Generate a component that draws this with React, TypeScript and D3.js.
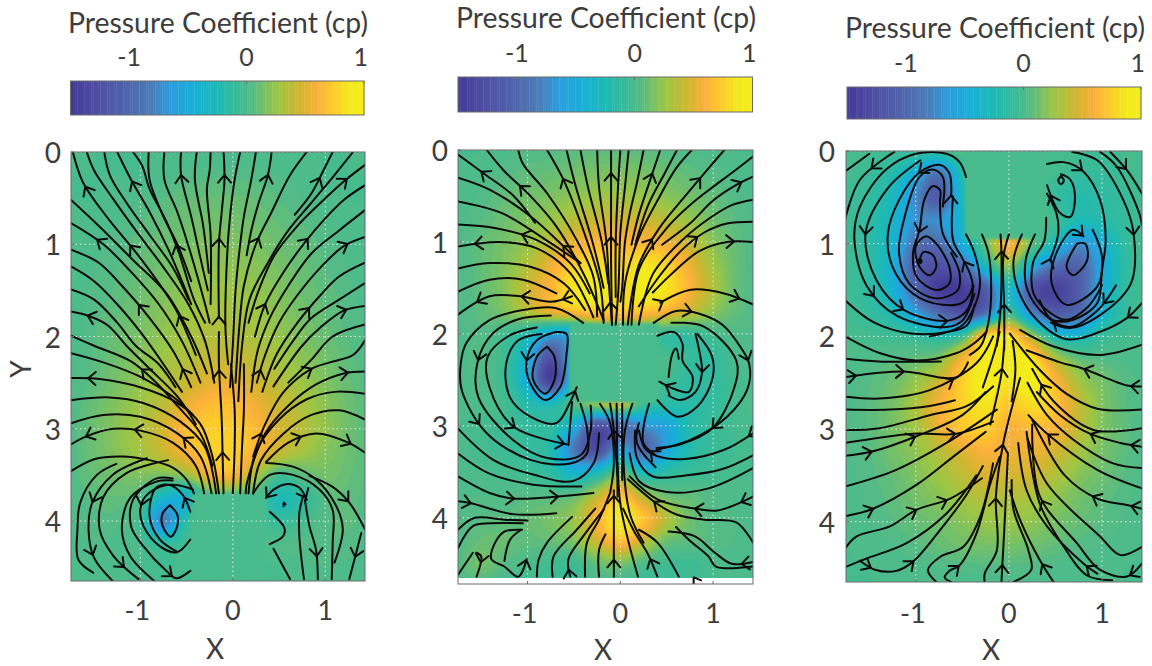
import React, { useMemo } from 'react';
import * as d3 from 'd3';

const width = 1152;
const height = 666;

const gridX = [-1.75, -1.5, -1.25, -1, -0.75, -0.5, -0.25, 0, 0.25, 0.5, 0.75, 1, 1.25, 1.5];
const gridY = [0, 0.25, 0.5, 0.75, 1, 1.25, 1.5, 1.75, 2, 2.25, 2.5, 2.75, 3, 3.25, 3.5, 3.75, 4, 4.25, 4.5, 4.75];

const cpA = [
  [0, 0, 0, 0, 0, 0, 0, 0, 0, 0, 0, 0, 0, 0],
  [0, 0, 0, 0, .02, .04, .05, .05, .05, .03, .02, 0, 0, 0],
  [0, 0, .01, .03, .06, .09, .1, .1, .09, .06, .03, .02, 0, 0],
  [0, .01, .03, .06, .09, .12, .14, .14, .12, .09, .06, .03, .01, 0],
  [0, .02, .05, .08, .12, .15, .18, .18, .16, .12, .09, .05, .02, 0],
  [0, .03, .06, .1, .14, .19, .22, .22, .2, .15, .11, .06, .03, 0],
  [.01, .04, .07, .12, .17, .22, .26, .26, .23, .18, .12, .08, .04, .01],
  [.01, .05, .09, .14, .2, .26, .3, .3, .27, .2, .14, .09, .05, .02],
  [.01, .06, .11, .17, .23, .3, .34, .35, .31, .24, .17, .11, .06, .02],
  [.02, .07, .13, .2, .27, .34, .41, .42, .37, .29, .21, .14, .08, .03],
  [.03, .08, .16, .23, .32, .42, .52, .54, .46, .36, .26, .18, .1, .04],
  [.04, .11, .19, .28, .38, .54, .66, .66, .56, .43, .32, .21, .12, .05],
  [.05, .12, .21, .31, .46, .66, .74, .73, .64, .47, .35, .23, .13, .05],
  [.05, .12, .2, .29, .42, .6, .74, .74, .6, .42, .29, .19, .12, .05],
  [.05, .1, .14, .18, .16, .26, .58, .62, .32, 0, .07, .14, .1, .05],
  [.04, .07, .09, .03, -.35, -.4, 0, 0, 0, -.25, -.15, .06, .08, .04],
  [.03, .05, .04, -.05, -.8, -.15, 0, 0, 0, -.1, -.03, .05, .07, .03],
  [.02, .03, .02, 0, -.12, -.02, 0, 0, 0, .03, .04, .06, .05, .02],
  [.01, .02, .01, 0, -.03, -.02, 0, 0, 0, 0, .02, .03, .02, .01],
  [0, 0, 0, 0, 0, 0, 0, 0, 0, 0, 0, 0, 0, 0],
];

const cpB = [
  [0, 0, .02, .04, .05, .07, .08, .08, .07, .05, .03, .02, 0, 0],
  [0, .02, .05, .08, .1, .14, .16, .17, .16, .12, .08, .05, .02, 0],
  [.01, .04, .09, .13, .17, .22, .26, .28, .25, .2, .14, .09, .04, .01],
  [.02, .06, .12, .18, .25, .35, .42, .45, .42, .35, .24, .13, .06, .02],
  [.03, .09, .15, .24, .38, .54, .62, .62, .62, .55, .4, .2, .09, .03],
  [.03, .09, .18, .33, .55, .74, .82, .75, .85, .76, .55, .28, .1, .03],
  [.03, .09, .2, .42, .62, .85, .95, .75, .95, .85, .6, .33, .1, .03],
  [.03, .08, .17, .35, .55, .68, .74, .72, .7, .6, .42, .22, .09, .03],
  [.02, .05, -.02, -.2, -.55, -.5, 0, 0, 0, -.1, -.1, -.02, .03, .02],
  [.02, .04, -.06, -.45, -1.2, -.4, 0, 0, 0, 0, -.1, -.12, .02, .02],
  [.02, .03, -.07, -.5, -1.4, -.35, 0, 0, 0, -.03, -.13, -.12, -.02, .02],
  [.02, .02, -.02, -.2, -.3, .05, .3, .45, -.05, -.15, -.18, -.12, -.02, .02],
  [0, -.02, -.05, -.1, -.15, -.45, -1.2, -1, -.7, -.55, -.2, -.08, -.02, 0],
  [.02, -.02, -.05, -.1, -.2, -.85, -1.3, -.6, -1, -.55, -.2, -.08, -.03, 0],
  [.02, .01, -.02, -.05, -.15, -.4, -.3, .1, -.3, -.15, -.08, -.04, -.01, 0],
  [.03, .03, .03, .05, .05, .08, .35, .7, .3, .1, .08, .03, .02, .01],
  [.03, .06, .07, .1, .15, .25, .6, .9, .7, .35, .12, .05, .03, .02],
  [.04, .1, .1, .08, .1, .18, .45, .7, .4, .12, .08, .05, .03, .02],
  [.05, .14, .06, .02, -.03, -.05, .1, .15, .02, -.03, -.05, 0, .02, .02],
  [.02, .02, -.02, -.05, -.05, -.05, .02, .02, -.05, -.05, -.02, 0, 0, 0],
];

const cpC = [
  [0, -.02, -.05, -.1, -.1, .05, 0, 0, 0, 0, -.02, -.05, -.02, 0],
  [-.02, -.08, -.2, -.5, -.9, -.2, 0, 0, 0, -.03, -.1, -.1, -.05, 0],
  [-.05, -.12, -.3, -.75, -1.1, -.3, 0, 0, 0, -.1, -.2, -.15, -.08, -.02],
  [-.05, -.15, -.35, -.7, -.7, -.35, 0, 0, 0, -.05, -.25, -.2, -.1, -.03],
  [-.05, -.15, -.4, -.9, -.95, -.45, .1, .6, .1, -.3, -.7, -.45, -.12, -.03],
  [-.05, -.15, -.45, -1.1, -1.25, -1, -.3, .2, -.5, -.95, -1.05, -.55, -.15, -.03],
  [-.05, -.15, -.4, -1, -1.45, -1.45, -1.1, -.3, -1.2, -1.4, -1.1, -.5, -.12, -.03],
  [-.03, -.1, -.25, -.6, -.95, -1.2, -.9, -.05, -.75, -1.1, -.95, -.4, -.1, -.02],
  [0, -.02, -.05, -.1, -.2, -.05, .8, .85, .3, -.25, -.3, -.1, -.03, 0],
  [.01, .03, .06, .1, .2, .6, .9, .9, .85, .35, .1, .05, .02, .01],
  [.02, .06, .12, .25, .45, .75, .95, .85, .95, .65, .3, .15, .06, .02],
  [.02, .07, .15, .32, .6, .75, .85, .7, .8, .7, .4, .18, .07, .02],
  [.03, .07, .15, .28, .52, .7, .75, .6, .65, .6, .38, .18, .08, .02],
  [.03, .06, .14, .22, .35, .5, .6, .55, .55, .45, .3, .15, .07, .02],
  [.02, .05, .1, .18, .27, .38, .48, .45, .45, .33, .2, .12, .06, .02],
  [.01, .04, .08, .14, .2, .28, .35, .33, .3, .22, .14, .08, .04, .01],
  [.01, .03, .06, .1, .14, .2, .25, .26, .22, .15, .1, .06, .03, .01],
  [0, .01, .03, .06, .1, .13, .15, .15, .13, .09, .05, .03, .01, 0],
  [0, 0, .01, .02, .03, .04, .05, .05, .04, .02, .01, .01, 0, 0],
  [0, 0, 0, 0, 0, 0, 0, 0, 0, 0, 0, 0, 0, 0],
];

// solid body outlines, cp = 0 inside
const bodyA = [[-.45, 3.7], [.36, 3.7], [.36, 4.7], [-.45, 4.7]];
const bodyB = [[-.55, 1.88], [.42, 1.88], [.42, 2.75], [-.55, 2.75]];
const bodyC = [[-.47, -.05], [.4, -.05], [.4, .95], [-.47, .95]];

// streamlines as x,y,x,y...
const linesA = [
  [-1.73, 0, -1.62, .33, -1.35, .72, -1, 1.15, -.62, 1.7, -.4, 2.2],
  [-1.58, 0, -1.5, .2, -1.3, .5, -1.05, .85, -.75, 1.25, -.48, 1.65, -.3, 2.05, -.2, 2.5],
  [-1.39, 0, -1.33, .25, -1.15, .55, -.9, .9, -.65, 1.25, -.48, 1.6],
  [-1.25, 0, -1.1, .3, -.9, .65, -.7, 1.05, -.55, 1.4, -.45, 1.65],
  [-1.08, 0, -.98, .15, -.9, .4, -.72, .75, -.58, 1.1, -.42, 1.6, -.3, 1.85],
  [-.91, 0, -.9, .3, -.75, .7, -.6, 1, -.45, 1.4],
  [-.74, 0, -.74, .3, -.6, .65, -.47, 1.05, -.3, 1.65, -.25, 1.85],
  [-.56, 0, -.56, .25, -.45, .7, -.35, 1.15, -.27, 1.5],
  [-.39, 0, -.41, .3, -.32, .8, -.26, 1.31],
  [-.24, 0, -.25, .2, -.28, .4, -.24, .9, -.24, 1.65],
  [-.1, 0, -.09, .3, -.12, .65, -.15, 1, -.15, 1.8],
  [.08, 0, .02, .3, -.03, .7, -.06, 1.1, -.08, 1.9, -.05, 2.3],
  [.25, 0, .2, .3, .12, .7, .08, 1, .03, 1.5, 0, 2.1, -.03, 2.55],
  [.42, 0, .38, .25, .28, .55, .2, .85, .15, 1.12],
  [.8, 0, .62, .25, .42, .65, .25, 1, .12, 1.45, .07, 1.9, .03, 2.5],
  [1.08, 0, .98, .2, .85, .45, .67, .68],
  [1.3, 0, 1.1, .25, .85, .55, .6, .85, .38, 1.2, .18, 1.6, .1, 2.1, .06, 2.7],
  [-1.75, .52, -1.44, .81, -1.08, 1.17, -.72, 1.53, -.45, 2, -.28, 2.4],
  [-1.75, .77, -1.4, 1, -1.1, 1.3, -.8, 1.65, -.55, 2.05, -.35, 2.5],
  [-1.75, 1.06, -1.45, 1.2, -1.2, 1.45, -.9, 1.8, -.65, 2.15, -.45, 2.55],
  [-1.75, 1.24, -1.5, 1.4, -1.25, 1.65, -1, 1.95, -.75, 2.3, -.55, 2.6],
  [-1.75, 1.49, -1.5, 1.6, -1.25, 1.85, -1.05, 2.1, -.8, 2.3, -.62, 2.55],
  [-1.75, 1.73, -1.55, 1.78, -1.35, 1.88, -1.15, 2.1, -.9, 2.35, -.6, 2.65, -.4, 2.95],
  [-1.75, 1.99, -1.5, 2.1, -1.1, 2.27, -.85, 2.48, -.6, 2.75, -.35, 3.05, -.22, 3.4],
  [-1.75, 2.18, -1.4, 2.28, -.97, 2.45, -.65, 2.65, -.43, 2.85],
  [-1.75, 2.45, -1.44, 2.46, -1, 2.55, -.6, 2.72, -.35, 2.95, -.22, 3.3, -.15, 3.7],
  [-1.75, 2.69, -1.33, 2.66, -.97, 2.72, -.57, 2.92, -.3, 3.2, -.18, 3.7],
  [-1.75, 2.94, -1.4, 2.85, -1, 2.87, -.6, 3.05, -.35, 3.3, -.23, 3.7],
  [-1.75, 3.17, -1.58, 3.08, -1.29, 3, -1, 3.02, -.65, 3.15, -.4, 3.4, -.31, 3.7],
  [-.42, 3.7, -.5, 3.55, -.65, 3.42, -.9, 3.34, -1.2, 3.3, -1.5, 3.33, -1.75, 3.46],
  [-.1, 3.7, -.11, 3.3, -.12, 2.9, -.15, 2.3, -.15, 1.95],
  [0, 3.7, .02, 3.2, .02, 2.8, -.02, 2.3],
  [.08, 3.7, .1, 3.2, .12, 2.8, .12, 2.3],
  [1.43, .14, 1.2, .32, .95, .55, .7, .8, .45, 1.12, .28, 1.5, .17, 1.85],
  [1.43, .36, 1.2, .52, 1, .72, .78, .98, .55, 1.3, .35, 1.65, .24, 2],
  [1.43, .63, 1.15, .85, .85, 1.1, .6, 1.45, .4, 1.8, .27, 2.15, .2, 2.6],
  [1.43, .92, 1.2, 1.02, .95, 1.25, .7, 1.55, .5, 1.85, .35, 2.2, .26, 2.5],
  [1.43, 1.2, 1.15, 1.35, .95, 1.55, .7, 1.85, .47, 2.2, .32, 2.6],
  [1.43, 1.42, 1.15, 1.6, .85, 1.8, .65, 2.05, .45, 2.35],
  [1.43, 1.67, 1.2, 1.72, .95, 1.9, .75, 2.1, .44, 2.54],
  [1.43, 1.87, 1.08, 2, .85, 2.25, .6, 2.5],
  [1.43, 2.04, 1.3, 2.2, 1.05, 2.28, .85, 2.35, .55, 2.6, .35, 2.95, .22, 3.3],
  [1.43, 2.38, 1.2, 2.4, .9, 2.52, .6, 2.75, .35, 3.05, .15, 3.6, .14, 3.7],
  [1.43, 2.62, 1.1, 2.6, .8, 2.68, .5, 2.9, .25, 3.25, .17, 3.7],
  [1.43, 2.9, 1.15, 2.8, .85, 2.85, .55, 3.05, .3, 3.35, .22, 3.7],
  [1.43, 3.26, 1.25, 3.15, .9, 3.05, .6, 3.15, .36, 3.36],
  [.83, 3.51, 1.08, 3.63, 1.26, 3.8, 1.43, 4.09],
  [-1.51, 4.56, -1.67, 4.42, -1.68, 4.09, -1.65, 3.8, -1.47, 3.5, -1.26, 3.38],
  [-1.3, 4.65, -1.5, 4.4, -1.56, 4.1, -1.52, 3.8, -1.3, 3.5, -.93, 3.32],
  [-1.02, 4.63, -1.29, 4.38, -1.44, 4.09, -1.4, 3.74, -1.15, 3.48, -.7, 3.34],
  [-.85, 4.65, -1.11, 4.38, -1.2, 4.09, -1.11, 3.75, -.82, 3.57, -.65, 3.56],
  [-.46, 4.2, -.61, 4.34, -.83, 4.24, -.99, 3.99, -.97, 3.77, -.79, 3.63, -.61, 3.61, -.43, 3.66],
  [-.46, 4.54, -.61, 4.62, -.72, 4.54, -.97, 4.27, -1.1, 4.06, -1.08, 3.77, -.83, 3.54, -.65, 3.54],
  [-.46, 3.9, -.54, 3.72, -.68, 3.61, -.83, 3.64, -.9, 3.95, -.79, 4.2, -.61, 4.33],
  [-.68, 3.83, -.6, 3.93, -.6, 4.05, -.67, 4.17, -.76, 4.05, -.76, 3.92, -.68, 3.83],
  [.36, 3.75, .44, 3.66, .58, 3.6, .72, 3.64, .8, 3.77],
  [.4, 3.9, .56, 4.08, .54, 4.17, .4, 4.25],
  [.57, 3.82, .55, 3.8, .55, 3.84],
  [.44, 4.3, .62, 4.63],
  [.77, 4.63, .72, 4.17, .72, 3.91, .76, 3.73],
  [.92, 4.63, .9, 4.31, .83, 4.06, .78, 3.77],
  [1.07, 4.63, 1.08, 4.24, 1.08, 3.88, .94, 3.66, .65, 3.5, .4, 3.5, .22, 3.7],
  [1.1, 4.45, 1.19, 4.09, 1.12, 3.84, .9, 3.55, .65, 3.41, .36, 3.37],
  [1.26, 4.63, 1.39, 4.13],
];

const linesB = [
  [-1.75, .05, -1.48, .25, -1.15, .5, -.92, .79],
  [-1.75, .3, -1.41, .43, -.97, .72, -.61, 1.05, -.43, 1.23],
  [-1.44, 0, -1.26, .22, -.97, .5, -.69, .83, -.4, 1.34, -.18, 1.85],
  [-1.1, 0, -1.05, .15, -.79, .47, -.47, .98, -.29, 1.38, -.25, 1.81],
  [-.79, 0, -.61, .33, -.4, .87, -.22, 1.45, -.18, 1.88],
  [-.58, 0, -.48, .4, -.3, 1, -.18, 1.5],
  [-.43, 0, -.35, .4, -.2, 1, -.13, 1.45],
  [-.25, 0, -.23, .4, -.15, 1, -.12, 1.5, -.09, 1.9],
  [-.1, 0, -.1, .5, -.1, 1.2, -.09, 1.9],
  [0, 0, -.03, .5, -.05, 1, -.05, 1.6],
  [.09, 0, .05, .4, 0, .9, -.02, 1.5, -.05, 1.9],
  [.25, 0, .18, .35, .1, .7, .05, 1, .02, 1.5, 0, 1.65],
  [.43, 0, .33, .3, .2, .7, .12, 1.03],
  [.61, 0, .48, .25, .3, .6, .16, 1.03],
  [.77, 0, .6, .2, .4, .55, .2, .95, .05, 1.45, .03, 1.9],
  [1.12, 0, .95, .2, .7, .5, .42, .85, .2, 1.25, .08, 1.9],
  [1.43, .07, 1.2, .25, 1, .4, .75, .6, .5, .85, .2, 1.3, .12, 1.9],
  [1.43, .29, 1.25, .38, 1, .55, .75, .8, .45, 1.03],
  [1.43, .54, 1.2, .6, .95, .75, .7, .95, .35, 1.35, .2, 1.9],
  [1.43, .78, 1.15, .8, .9, .9, .65, 1.1, .4, 1.4, .2, 1.7],
  [1.43, 1, 1.15, 1, .85, 1.1, .55, 1.35, .35, 1.55],
  [1.43, 1.68, 1.12, 1.56, .76, 1.52, .43, 1.66],
  [-1.75, .56, -1.27, .69, -.8, .98, -.43, 1.23],
  [-1.75, .81, -1.34, .85, -.9, .98, -.54, 1.23, -.33, 1.56],
  [-1.75, 1.05, -1.3, 1, -.9, 1.07, -.54, 1.34, -.29, 1.82],
  [-1.75, 1.29, -1.41, 1.23, -.97, 1.27, -.61, 1.45, -.38, 1.74],
  [-1.75, 1.54, -1.41, 1.41, -1.05, 1.41, -.69, 1.56],
  [-1.75, 1.79, -1.41, 1.59, -1.08, 1.59, -.75, 1.65, -.52, 1.59],
  [.36, 1.88, .6, 1.75, .85, 1.78, 1.1, 1.9, 1.3, 2.15, 1.39, 2.33, 1.37, 2.6, 1.15, 2.9, .76, 3.15, .39, 3.26],
  [.83, 2, .99, 2.25, .99, 2.5, .83, 2.79, .61, 2.9, .4, 2.72],
  [.55, 1.88, .9, 1.92, 1.25, 2.29, 1.23, 2.58, .99, 3.03, .65, 3.2, .39, 3.24],
  [-.4, 1.88, -.69, 1.72, -1.05, 1.74, -1.41, 1.85, -1.66, 2.1, -1.72, 2.32, -1.71, 2.61, -1.44, 3.08, -.97, 3.37, -.54, 3.41, -.36, 3.3, -.36, 3.03, -.43, 2.76],
  [-.75, 1.8, -1.1, 1.84, -1.38, 2, -1.54, 2.31, -1.53, 2.69, -1.15, 3.16, -.79, 3.35, -.43, 3.32, -.32, 3.05, -.32, 2.78],
  [-.9, 1.93, -1.2, 2.02, -1.43, 2.25, -1.41, 2.58, -1.15, 3.01, -.58, 3.2],
  [-.85, 2, -1.1, 2.07, -1.23, 2.32, -1.19, 2.69, -.97, 2.9, -.69, 2.97, -.54, 2.74, -.47, 2.58],
  [-.7, 1.98, -.58, 2, -.58, 2.22, -.65, 2.58, -.81, 2.72, -.97, 2.54, -1.01, 2.29, -.9, 2.07, -.7, 1.98],
  [-.79, 2.14, -.71, 2.25, -.71, 2.5, -.81, 2.65, -.94, 2.5, -.9, 2.25, -.79, 2.14],
  [-.52, 2.74, -.56, 3.21],
  [.4, 2.02, .58, 1.98, .67, 2.11, .67, 2.29, .78, 2.47, .74, 2.63, .58, 2.6, .42, 2.52],
  [.52, 2.47, .56, 2.22, .6, 2.16, .63, 2.27],
  [.81, 2, .85, 2.18, .88, 2.42, .81, 2.63, .65, 2.72, .52, 2.67],
  [-.22, 2.76, -.11, 2.97, -.07, 3.41, -.11, 3.73],
  [-.11, 2.76, -.07, 3.05, -.03, 3.55],
  [-.04, 2.76, -.03, 3.77],
  [.02, 2.76, .02, 3.59],
  [.13, 2.76, .05, 3.05, .04, 3.5, .11, 3.98, .25, 4.27],
  [.31, 2.76, .25, 3.01, .25, 3.19, .38, 3.32],
  [.2, 2.97, .18, 3.19, .38, 3.45],
  [1.43, 3.08, 1.12, 3.26, .7, 3.36, .4, 3.33, .27, 3.25, .2, 3.05],
  [1.43, 3.32, 1.1, 3.47, .7, 3.54, .35, 3.55, .18, 3.35, .16, 3.05],
  [1.43, 3.46, .95, 3.68, .5, 3.72, .2, 3.6, .1, 3.3],
  [1.43, 3.77, 1.05, 3.92, .8, 3.9, .4, 3.8, .1, 3.55],
  [1.43, 4.27, 1.25, 4.05, .9, 4.02, .62, 3.97, .4, 3.85, .08, 3.58],
  [.52, 4.15, .8, 4.2, 1.02, 4.38, 1.2, 4.5, 1.43, 4.48],
  [1.43, 4.53, 1.03, 4.53, .95, 4.42, .75, 4.25, .6, 4.1],
  [-.07, 4.64, -.07, 4.2, -.07, 3.7],
  [.19, 4.64, .09, 4.27, 0, 3.85, -.03, 3.4],
  [.4, 4.64, .29, 4.38, .15, 4.15, .03, 3.9],
  [.63, 4.64, .4, 4.27, .2, 4.13],
  [.79, 4.65, .79, 4.72],
  [.8, 4.65, .87, 4.68],
  [-.23, 4.64, -.23, 4.35, -.16, 4.18],
  [-.38, 4.64, -.36, 4.27, -.23, 4.02, -.11, 3.73],
  [-.54, 4.64, -.56, 4.45, -.4, 4.2, -.18, 3.91],
  [-.73, 4.64, -.72, 4.42, -.47, 4.13, -.27, 3.9],
  [-.9, 4.64, -.88, 4.45, -.79, 4.27, -.52, 3.99],
  [-1.25, 4.47, -1.19, 4.24, -1.07, 4.13],
  [-1.01, 4.45, -1.1, 4.64, -1.25, 4.53, -1.39, 4.45, -1.35, 4.27, -1.25, 4.15, -1.06, 4.13],
  [-1.75, 4.62, -1.59, 4.38],
  [-1.55, 4.64, -1.5, 4.42, -1.55, 4.38],
  [-1.75, 4.33, -1.59, 4.09, -1.4, 4.06, -1.05, 4.06],
  [-1.75, 4.13, -1.57, 4, -1.25, 4.02, -1, 4.03],
  [-1.75, 3.82, -1.62, 3.84, -1.16, 3.96, -.69, 3.95],
  [-1.75, 3.55, -1.41, 3.73, -1.16, 3.79, -.69, 3.77, -.29, 3.73],
  [-1.75, 3.3, -1.41, 3.52, -.94, 3.64, -.42, 3.66],
  [-1.75, 3.03, -1.37, 3.37, -.94, 3.53, -.51, 3.6, -.29, 3.41, -.23, 3.08],
];

const linesC = [
  [-1.76, .22, -1.5, .03],
  [-1.76, .74, -1.6, .31, -1.23, .01],
  [-.46, .28, -.53, .12, -.67, .03, -1, .03, -1.32, .2, -1.6, .6, -1.66, .95, -1.53, 1.45, -1.2, 1.78, -.67, 1.9, -.5, 1.83, -.37, 1.54],
  [-.95, .1, -1.3, .4, -1.54, .89, -1.42, 1.4, -1.12, 1.72, -.65, 1.83, -.45, 1.72, -.38, 1.45],
  [-1.76, 1.61, -1.45, 1.85, -1.05, 1.97, -.65, 1.95, -.45, 1.88, -.37, 1.66],
  [-.62, .49, -.64, .24, -.74, .15, -.96, .23, -1.18, .53, -1.3, .89, -1.25, 1.25, -1.03, 1.54, -.71, 1.66, -.49, 1.63, -.39, 1.46, -.42, 1.32, -.51, 1.14, -.6, .96, -.6, .49],
  [-.71, .6, -.71, .28, -.82, .2, -.96, .28, -1.12, .71, -1.18, 1.1, -1.07, 1.43, -.78, 1.59, -.55, 1.5, -.53, 1.32, -.62, 1.1],
  [-.56, 1.14, -.71, .89, -.74, .56, -.74, .42, -.82, .38, -.91, .53, -.96, .85, -1.03, 1.1, -.99, 1.36, -.78, 1.5, -.64, 1.43, -.64, 1.25, -.78, 1, -.89, .92, -1, 1.03, -.96, 1.25, -.85, 1.34, -.78, 1.25, -.82, 1.12, -.92, 1.09, -.96, 1.19],
  [-.46, .9, -.37, 1.1, -.31, 1.43, -.37, 1.68, -.5, 1.88, -.85, 2],
  [-.29, .9, -.22, 1.1, -.19, 1.5, -.22, 1.85, -.3, 2.1, -.42, 2.2],
  [-.09, .9, -.08, 1.1, -.09, 1.7, -.13, 2.1],
  [0, .9, -.06, 1.15, -.05, 1.7, -.05, 2.15],
  [.14, .9, .05, 1.18, .1, 1.5, .3, 1.82, .62, 2.03, .98, 1.95, 1.27, 1.8, 1.43, 1.64],
  [.28, .9, .18, 1.18, .2, 1.5, .4, 1.78, .65, 1.9, .95, 1.72, 1.15, 1.45],
  [.4, .72, .38, .97, .26, 1.2, .27, 1.55, .45, 1.75, .62, 1.82, .85, 1.68, 1, 1.45],
  [.41, .14, .59, .12, .8, .22, .98, .53, 1.04, .96, 1, 1.28, .95, 1.64, .69, 1.82, .46, 1.82, .33, 1.61],
  [.68, .01, .95, .1, 1.23, .53, 1.34, .89, 1.31, 1.43, .95, 1.79, .66, 1.91, .45, 1.85],
  [.98, .01, 1.16, .17, 1.4, .67, 1.43, .8],
  [1.09, .01, 1.27, .21, 1.43, .46],
  [.41, .37, .55, .67, .66, .71, .71, .49, .66, .31, .56, .25],
  [.56, .27, .53, .32, .56, .36, .59, .32, .56, .27],
  [.41, .46, .51, .67, .53, .89, .44, 1.18],
  [.8, .92, .69, .85, .51, 1.1, .46, 1.43, .62, 1.66, .95, 1.46, 1, 1.14, .9, .85],
  [.73, 1, .62, 1.25, .69, 1.34, .84, 1.18, .82, 1, .73, 1],
  [-1.76, 2, -1.39, 2.18, -.99, 2.26, -.56, 2.18, -.38, 2.08, -.24, 1.95],
  [-1.76, 2.24, -1.4, 2.27, -.73, 2.27],
  [-1.76, 2.44, -1.14, 2.38, -.56, 2.44, -.44, 2.28],
  [-1.76, 2.65, -1.39, 2.67, -.85, 2.58, -.35, 2.29, -.17, 2],
  [-1.76, 2.79, -1.28, 2.79, -.85, 2.75, -.58, 2.69],
  [-1.76, 3.01, -1.39, 2.99, -.85, 2.85, -.45, 2.75, -.17, 2.54],
  [-1.76, 3.15, -1.03, 3.05, -.56, 3.05, -.17, 2.92],
  [-1.76, 3.29, -1.46, 3.24, -1, 3.08, -.5, 2.85, -.25, 2.6],
  [-1.76, 3.62, -1.21, 3.44, -.67, 3.15, -.13, 2.79],
  [-1.76, 3.94, -1.46, 3.86, -.99, 3.6, -.6, 3.3, -.25, 3.03],
  [-1.76, 4.29, -1.64, 4.16, -1.28, 4.05, -.99, 3.87, -.63, 3.75, -.29, 3.53],
  [-1.76, 4.49, -1.54, 4.4, -1.1, 4.23, -.67, 3.91, -.35, 3.5],
  [-1.6, 4.42, -1.43, 4.52, -1.21, 4.53, -1.03, 4.43, -.74, 4.09, -.45, 3.7, -.28, 3.4],
  [-.78, 4.65, -.87, 4.52, -.74, 4.38, -.49, 4.27, -.31, 3.95, -.17, 3.37],
  [-.62, 4.65, -.69, 4.6, -.64, 4.53, -.53, 4.47, -.35, 4.13, -.2, 3.59, -.1, 3.3],
  [-.26, 4.65, -.26, 4.56, -.13, 4.31, -.14, 3.73, -.06, 3.15, .12, 2.45],
  [-.08, 4.65, -.05, 4.09, -.01, 3.26],
  [.05, 4.65, .24, 4.52, .21, 4.31, .05, 3.87, .03, 3.55],
  [.48, 4.65, .33, 4.41, .12, 3.98, .01, 3.66],
  [.95, 4.56, .8, 4.45, .41, 4.05, .19, 3.66, .1, 3.15],
  [1.11, 4.63, .84, 4.58, .59, 4.27, .33, 3.8, .19, 3.03],
  [1.43, 4.45, 1.27, 4.59, .98, 4.52, .73, 4.23, .33, 3.72, .25, 2.95],
  [1.43, 4.27, 1.2, 4.36, .98, 4.16, .41, 3.59, .2, 3.1],
  [1.43, 3.86, 1.27, 3.82, .95, 3.75, .6, 3.5, .25, 2.9],
  [1.43, 3.64, .95, 3.44, .41, 3.05, .21, 2.85],
  [1.43, 3.42, 1.12, 3.37, .7, 3.12, .41, 2.85, .2, 2.5],
  [1.43, 3.19, 1.2, 3.15, .87, 3.05, .55, 2.85, .3, 2.6],
  [1.43, 2.99, .91, 3.01, .48, 2.7, .25, 2.35],
  [1.43, 2.79, .95, 2.78, .62, 2.62, .33, 2.36, .01, 1.97],
  [1.43, 2.54, 1.27, 2.53, .8, 2.35, .55, 2.28, .19, 2.15],
  [1.43, 2.09, .98, 2.2, .48, 2.11, .12, 1.93],
  [-.2, 2.95, -.08, 2.4, -.05, 2.05],
  [-.28, 2.55, -.15, 2.15, -.1, 1.95],
  [.03, 2.7, .07, 2.35, .04, 2.05],
];

// arrowheads as x, y, screen angle in degrees
const arrowsA = [
  [-1.57, .36, -115], [-1.1, .33, -115], [-.55, .25, -90], [-.09, .25, -90], [.36, .25, -80], [.92, .27, -55], [1.23, .3, -40],
  [-1.48, .95, -150], [-1.09, 1, -140], [-.63, 1.02, -110], [-.16, .95, -90], [.33, .95, -70], [.8, .94, -40], [1.25, 1.02, -30],
  [-.98, 1.64, -130], [-.62, 1.8, -120], [-.16, 1.85, -90], [.35, 1.65, -60], [.76, 1.64, -50], [1.23, 1.72, -20], [-1.57, 1.78, -170],
  [-.97, 2.35, -140], [-.54, 2.35, -120], [-.14, 2.36, -90], [.31, 2.36, -60], [.85, 2.35, -35], [1.25, 2.4, 0], [-1.57, 2.45, 180],
  [-1.58, 3.08, 160], [-1.08, 3.12, -175], [-.5, 3.07, -135], [-.16, 3.25, -90], [.31, 3.06, -50], [.76, 3.14, 5], [1.25, 3.21, 20],
  [-1.5, 3.8, 95], [-1.56, 4.38, 90], [-1.15, 4.47, 60], [-.96, 3.83, 100], [-.66, 4.58, 20], [-.51, 3.75, -100], [.78, 3.75, 85],
  [.38, 3.75, -170], [.92, 4.38, 90], [1.25, 3.79, 60], [1.33, 4.38, 100],
];

const arrowsB = [
  [-1.5, .25, -130], [-1.09, .39, -125], [-.62, .32, -110], [-.09, .25, -90], [.34, .25, -70], [.78, .25, -55], [1.32, .36, -35],
  [-1.06, .94, -160], [-.61, 1.05, -120], [-.11, .95, -90], [.33, .97, -60], [.83, .94, -25], [1.23, 1, 0], [-1.56, 1.03, 178],
  [-1.06, 1.61, 180], [-1.55, 1.65, 150], [-.61, 1.66, -170], [-.14, 1.66, -90], [.36, 1.65, -30], [1.3, 1.59, 25], [.76, 1.74, 10],
  [-1.55, 2.29, 90], [-1, 2.29, 90], [-1.52, 2.99, 60], [-1.15, 3.02, 40], [-.55, 2.6, -90], [-.61, 3.16, -10], [-.07, 3.05, -90],
  [.34, 3.26, 180], [.99, 3.03, 145], [1.39, 2.29, 90], [1.39, 3.1, 145], [.88, 2.42, 90], [.49, 2.56, -150], [-1.14, 3.79, 0],
  [-.67, 3.77, 0], [-1.62, 3.84, 10], [-.09, 3.75, -90], [.34, 3.84, -170], [.81, 3.91, 180], [1.3, 3.81, 170], [1.3, 4.47, 180],
  [-1.03, 4.45, -80], [-.55, 4.56, -90], [-.06, 4.45, -90], [.34, 4.45, -110], [-1.52, 4.49, 100],
];

const arrowsC = [
  [-1.46, .2, 135], [-.96, .23, 170], [-1.54, .89, 90], [-1.01, .87, 100], [-.6, .49, -90], [-1.5, 1.61, 40], [-1.16, 1.73, 15],
  [-.65, 1.86, 10], [-.47, 1.19, -120], [-.1, 1.09, -90], [-.05, 1.66, -90], [.78, .22, 30], [1.26, .2, 60], [1.36, .91, 90],
  [.78, .92, 60], [.48, .47, -120], [.41, 1.19, -115], [1, 1.63, 135], [1.31, 1.84, 135], [.48, 1.84, -130],
  [-1.64, 2.45, -5], [-1.14, 2.38, -5], [-.6, 2.47, -15], [-.06, 2.36, -90], [.35, 2.53, -120], [.8, 2.35, -160], [1.31, 2.55, 175],
  [-1.48, 3.24, -10], [-1.01, 3.08, -15], [-.58, 3.05, -25], [-.12, 3.17, -80], [.41, 3.06, -130], [.89, 3.05, -150], [1.31, 3.19, -170],
  [-1.46, 3.86, -20], [-1, 3.87, -25], [-.67, 3.75, -45], [-.12, 3.75, -90], [.35, 3.77, -125], [.84, 3.84, -140], [1.31, 3.83, -165],
  [-1.03, 4.43, -30], [-1.48, 4.49, 30], [-.53, 4.47, -20], [-.04, 4.47, -90], [.37, 4.45, -120], [.84, 4.47, -140], [1.31, 4.58, 150],
];

// spiral end of the big vortex in the right panel
const dotsC = [[-.96, 1.19]];

const cbStops = [-1.5, -1.25, -1, -.8, -.65, -.45, -.25, -.05, .05, .26, .46, .6, .72, .88, 1];
const cbColors = ['#423a98', '#4f50a4', '#4f66ad', '#4a7fbb', '#2c9ddc', '#18afd8', '#1dbab4', '#3ebb93', '#55bb85', '#9cc645', '#d4b52f', '#fbb03b', '#fdc92c', '#f3ea1c', '#f5ec1a'];
const cbTicks = [-1, 0, 1];
const xTicks = [-1, 0, 1];
const yTicks = [0, 1, 2, 3, 4];

const panels = [
  { key: 'a', cp: cpA, body: bodyA, lines: linesA, arrows: arrowsA, dots: [] as number[][], box: [71, 365, 152, 581], yMax: 4.65, heatMax: 4.65, cb: [70.5, 364, 81, 115], titleX: 68, titleY: 33, cbLabelY: 66, xLabelY: 620, xTitle: [215, 659], yTickX: 61 },
  { key: 'b', cp: cpB, body: bodyB, lines: linesB, arrows: arrowsB, dots: [] as number[][], box: [458, 753, 150, 584], yMax: 4.72, heatMax: 4.65, cb: [458, 752.5, 77, 112], titleX: 456, titleY: 28, cbLabelY: 62, xLabelY: 623, xTitle: [603, 660], yTickX: 448 },
  { key: 'c', cp: cpC, body: bodyC, lines: linesC, arrows: arrowsC, dots: dotsC, box: [846, 1142, 151, 582], yMax: 4.65, heatMax: 4.65, cb: [847, 1141, 87, 119], titleX: 845, titleY: 38, cbLabelY: 72, xLabelY: 623, xTitle: [991, 660], yTickX: 835 },
];

const font = "Lato, 'Open Sans', sans-serif";
const textColor = '#3d3d3d';
const frameColor = '#6b6b6b';

const color = d3.scaleLinear<string>().domain(cbStops).range(cbColors).interpolate(d3.interpolateRgb).clamp(true);

const upFactor = 8;
const cr = (a: number, b: number, c: number, d: number, t: number) =>
  0.5 * (2 * b + (c - a) * t + (2 * a - 5 * b + 4 * c - d) * t * t + (3 * b - a - 3 * c + d) * t * t * t);

// resample the coarse cp table so the filled contours come out smooth
function upsample(cp: number[][]) {
  const nx = (gridX.length - 1) * upFactor + 1;
  const ny = (gridY.length - 1) * upFactor + 1;
  const out = new Array(nx * ny);
  const at = (i: number, j: number) =>
    cp[Math.max(0, Math.min(gridY.length - 1, j))][Math.max(0, Math.min(gridX.length - 1, i))];
  for (let y = 0; y < ny; y++) {
    const j = Math.floor(y / upFactor);
    const v = y / upFactor - j;
    for (let x = 0; x < nx; x++) {
      const i = Math.floor(x / upFactor);
      const u = x / upFactor - i;
      const r = [-1, 0, 1, 2].map(dj => cr(at(i - 1, j + dj), at(i, j + dj), at(i + 1, j + dj), at(i + 2, j + dj), u));
      out[y * nx + x] = Math.max(-1.5, Math.min(1, cr(r[0], r[1], r[2], r[3], v)));
    }
  }
  return { nx, ny, values: out };
}

const thresholds = d3.range(0, 80).map(i => -1.5 + (i * 2.5) / 80);

const Panel = ({ p }: { p: (typeof panels)[number] }) => {
  const [x0, x1, y0, y1] = p.box;
  const x = d3.scaleLinear().domain([-1.75, 1.43]).range([x0, x1]);
  const y = d3.scaleLinear().domain([0, p.yMax]).range([y0, y1]);
  const cbX = d3.scaleLinear().domain([-1.5, 1]).range([p.cb[0], p.cb[1]]);

  const fills = useMemo(() => {
    const { nx, ny, values } = upsample(p.cp);
    const project = d3.geoTransform({
      point(px: number, py: number) {
        const dx = gridX[0] + ((px - 0.5) / upFactor) * 0.25;
        const dy = gridY[0] + ((py - 0.5) / upFactor) * 0.25;
        (this as any).stream.point(x(dx), y(dy));
      },
    });
    const path = d3.geoPath(project);
    return d3.contours().size([nx, ny]).thresholds(thresholds)(values).map(c => ({ v: c.value, d: path(c) }));
  }, []);

  const curve = d3.line<number[]>().x(d => x(d[0])).y(d => y(d[1])).curve(d3.curveCatmullRom.alpha(0.5));
  const pairsOf = (l: number[]) => d3.range(0, l.length, 2).map(i => [l[i], l[i + 1]]);
  const linePaths = useMemo(() => p.lines.map(l => curve(pairsOf(l)) as string), []);

  // sit each arrowhead on its nearest streamline and follow the line's direction there
  const heads = useMemo(() => {
    const samples: { x: number; y: number; dx: number; dy: number }[] = [];
    linePaths.forEach(d => {
      const el = document.createElementNS('http://www.w3.org/2000/svg', 'path');
      el.setAttribute('d', d);
      const len = el.getTotalLength();
      for (let s = 1; s < len - 1; s += 2) {
        const a = el.getPointAtLength(s - 1);
        const b = el.getPointAtLength(s + 1);
        samples.push({ x: (a.x + b.x) / 2, y: (a.y + b.y) / 2, dx: b.x - a.x, dy: b.y - a.y });
      }
    });
    return p.arrows.map(a => {
      const ax = x(a[0]);
      const ay = y(a[1]);
      const rad = (a[2] * Math.PI) / 180;
      let best = -1;
      let bestScore = Infinity;
      samples.forEach((s, i) => {
        const dist = Math.hypot(s.x - ax, s.y - ay);
        const cosA = Math.abs(s.dx * Math.cos(rad) + s.dy * Math.sin(rad)) / (Math.hypot(s.dx, s.dy) || 1);
        const score = dist + (1 - cosA) * 8;
        if (score < bestScore) {
          bestScore = score;
          best = i;
        }
      });
      const s = samples[best];
      if (!s || Math.hypot(s.x - ax, s.y - ay) > 14) return [ax, ay, rad];
      let ang = Math.atan2(s.dy, s.dx);
      if (Math.cos(ang - rad) < 0) ang += Math.PI;
      return [s.x, s.y, ang];
    });
  }, []);

  const bodyPath = d3.line<number[]>().x(d => x(d[0])).y(d => y(d[1]))(p.body) + 'Z';
  const clipId = 'clip-' + p.key;
  const frameClip = 'frame-' + p.key;
  const cbSteps = d3.range(0, 128);
  const cbW = (p.cb[1] - p.cb[0]) / 128;

  return (
    <g>
      <text x={p.titleX} y={p.titleY} fontSize={29} fontFamily={font} fill={textColor} textLength={300} lengthAdjust="spacingAndGlyphs">
        Pressure Coefficient (cp)
      </text>
      {cbSteps.map(i => (
        <rect key={i} x={p.cb[0] + i * cbW} y={p.cb[2]} width={cbW + 0.4} height={p.cb[3] - p.cb[2]} fill={color(-1.5 + ((i + 0.5) * 2.5) / 128)} />
      ))}
      <rect x={p.cb[0]} y={p.cb[2]} width={p.cb[1] - p.cb[0]} height={p.cb[3] - p.cb[2]} fill="none" stroke={frameColor} strokeWidth={1} />
      {cbTicks.map(t => (
        <g key={t}>
          <line x1={cbX(t)} x2={cbX(t)} y1={p.cb[2]} y2={p.cb[2] + 3} stroke={frameColor} />
          <text x={t === 1 ? cbX(t) + 4 : cbX(t)} y={p.cbLabelY} textAnchor={t === 1 ? 'end' : 'middle'} fontSize={25} fontFamily={font} fill={textColor}>
            {t}
          </text>
        </g>
      ))}

      <clipPath id={clipId}>
        <rect x={x0} y={y0} width={x1 - x0} height={y(p.heatMax) - y0} />
      </clipPath>
      <clipPath id={frameClip}>
        <rect x={x0} y={y0} width={x1 - x0} height={y1 - y0} />
      </clipPath>
      <filter id={'soft-' + p.key} x="-10%" y="-10%" width="120%" height="120%">
        <feGaussianBlur stdDeviation={1.6} />
      </filter>
      <g clipPath={`url(#${clipId})`}>
        <rect x={x0} y={y0} width={x1 - x0} height={y1 - y0} fill={color(0)} />
        {fills.map(f => (
          <path key={f.v} d={f.d as string} fill={color(f.v + 0.015)} />
        ))}
        <path d={bodyPath} fill={color(0)} filter={`url(#soft-${p.key})`} />
      </g>

      {xTicks.map(t => (
        <line key={t} x1={x(t)} x2={x(t)} y1={y0} y2={y1} stroke="#e8e8e8" strokeWidth={1} strokeDasharray="1.5 3" />
      ))}
      {yTicks.map(t => (
        <line key={t} x1={x0} x2={x1} y1={y(t)} y2={y(t)} stroke="#e8e8e8" strokeWidth={1} strokeDasharray="1.5 3" />
      ))}

      <g clipPath={`url(#${frameClip})`} fill="none" stroke="#0b0b0b" strokeWidth={2} strokeLinecap="round" strokeLinejoin="round">
        {linePaths.map((d, i) => (
          <path key={i} d={d} />
        ))}
        {heads.map((a, i) => {
          const barb = (s: number) => `${a[0] - 10 * Math.cos(a[2] + s)},${a[1] - 10 * Math.sin(a[2] + s)}`;
          return <path key={'a' + i} d={`M${barb(0.7)}L${a[0]},${a[1]}L${barb(-0.7)}`} />;
        })}
        {p.dots.map((d, i) => (
          <circle key={'d' + i} cx={x(d[0])} cy={y(d[1])} r={2} fill="#0b0b0b" />
        ))}
      </g>

      <rect x={x0} y={y0} width={x1 - x0} height={y1 - y0} fill="none" stroke={frameColor} strokeWidth={1} />
      {xTicks.map(t => (
        <g key={t}>
          <line x1={x(t)} x2={x(t)} y1={y1} y2={y1 - 3} stroke={frameColor} />
          <text x={x(t) - (t < 0 ? 3 : 0)} y={p.xLabelY} textAnchor="middle" fontSize={27} fontFamily={font} fill={textColor}>
            {t}
          </text>
        </g>
      ))}
      {yTicks.map(t => (
        <g key={t}>
          <line x1={x0} x2={x0 + 3} y1={y(t)} y2={y(t)} stroke={frameColor} />
          <text x={p.yTickX} y={y(t) + 11} textAnchor="end" fontSize={28} fontFamily={font} fill={textColor}>
            {t}
          </text>
        </g>
      ))}
      <text x={p.xTitle[0]} y={p.xTitle[1]} textAnchor="middle" fontSize={28} fontFamily={font} fill={textColor}>
        X
      </text>
    </g>
  );
};

export default function App() {
  return (
    <svg width={width} height={height} style={{ position: 'absolute', left: 0, top: 0, background: '#fff' }}>
      {panels.map(p => (
        <Panel key={p.key} p={p} />
      ))}
      <text transform="translate(31,369) rotate(-90)" textAnchor="middle" fontSize={28} fontFamily={font} fill={textColor}>
        Y
      </text>
    </svg>
  );
}
